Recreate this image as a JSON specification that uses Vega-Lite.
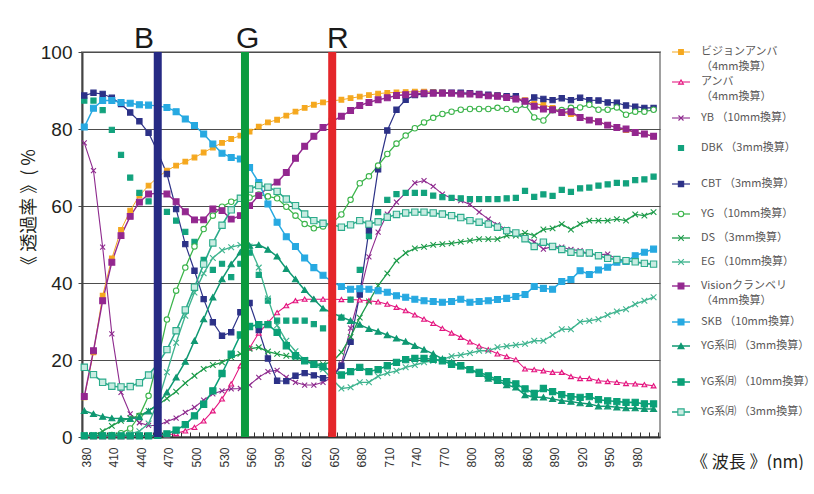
{
"$schema":"https://vega.github.io/schema/vega-lite/v6.json",
"background":"#ffffff",
"padding":{"left":19,"top":23,"right":8,"bottom":0},
"config":{"font":"Liberation Sans"},
"bounds":"flush",
"spacing":7,
"datasets":{
"series":[
{"s":"VA","w":380,"v":10.3},{"s":"VA","w":390,"v":22},{"s":"VA","w":400,"v":36.7},{"s":"VA","w":410,"v":46.4},{"s":"VA","w":420,"v":53.8},{"s":"VA","w":430,"v":58.8},{"s":"VA","w":440,"v":62.7},{"s":"VA","w":450,"v":65.3},{"s":"VA","w":460,"v":67.5},{"s":"VA","w":470,"v":69.2},{"s":"VA","w":480,"v":70.5},{"s":"VA","w":490,"v":71.5},{"s":"VA","w":500,"v":72.6},{"s":"VA","w":510,"v":73.9},{"s":"VA","w":520,"v":75.2},{"s":"VA","w":530,"v":76.4},{"s":"VA","w":540,"v":77.4},{"s":"VA","w":550,"v":78.3},{"s":"VA","w":560,"v":79.3},{"s":"VA","w":570,"v":80.6},{"s":"VA","w":580,"v":81.7},{"s":"VA","w":590,"v":82.4},{"s":"VA","w":600,"v":83.5},{"s":"VA","w":610,"v":84.5},{"s":"VA","w":620,"v":85.5},{"s":"VA","w":630,"v":86.3},{"s":"VA","w":640,"v":86.9},{"s":"VA","w":650,"v":87.3},{"s":"VA","w":660,"v":87.6},{"s":"VA","w":670,"v":88.0},{"s":"VA","w":680,"v":88.4},{"s":"VA","w":690,"v":88.8},{"s":"VA","w":700,"v":89.2},{"s":"VA","w":710,"v":89.4},{"s":"VA","w":720,"v":89.5},{"s":"VA","w":730,"v":89.6},{"s":"VA","w":740,"v":89.7},{"s":"VA","w":750,"v":89.7},{"s":"VA","w":760,"v":89.6},{"s":"VA","w":770,"v":89.5},{"s":"VA","w":780,"v":89.4},{"s":"VA","w":790,"v":89.3},{"s":"VA","w":800,"v":89.1},{"s":"VA","w":810,"v":89.0},{"s":"VA","w":820,"v":88.8},{"s":"VA","w":830,"v":88.7},{"s":"VA","w":840,"v":88.4},{"s":"VA","w":850,"v":88.1},{"s":"VA","w":860,"v":87.5},{"s":"VA","w":870,"v":86.5},{"s":"VA","w":880,"v":86.3},{"s":"VA","w":890,"v":85.5},{"s":"VA","w":900,"v":84.3},{"s":"VA","w":910,"v":83.9},{"s":"VA","w":920,"v":83.0},{"s":"VA","w":930,"v":82.3},{"s":"VA","w":940,"v":81.9},{"s":"VA","w":950,"v":81.0},{"s":"VA","w":960,"v":80.4},{"s":"VA","w":970,"v":79.7},{"s":"VA","w":980,"v":79.1},{"s":"VA","w":990,"v":78.7},{"s":"VA","w":1000,"v":78.1},
{"s":"AM","w":380,"v":0.1},{"s":"AM","w":390,"v":0.1},{"s":"AM","w":400,"v":0.1},{"s":"AM","w":410,"v":0.1},{"s":"AM","w":420,"v":0.1},{"s":"AM","w":430,"v":0.1},{"s":"AM","w":440,"v":0.2},{"s":"AM","w":450,"v":0.2},{"s":"AM","w":460,"v":0.3},{"s":"AM","w":470,"v":0.5},{"s":"AM","w":480,"v":0.9},{"s":"AM","w":490,"v":1.6},{"s":"AM","w":500,"v":2.5},{"s":"AM","w":510,"v":4.2},{"s":"AM","w":520,"v":6.8},{"s":"AM","w":530,"v":9.9},{"s":"AM","w":540,"v":13.8},{"s":"AM","w":550,"v":18.5},{"s":"AM","w":560,"v":23.1},{"s":"AM","w":570,"v":27.0},{"s":"AM","w":580,"v":29.7},{"s":"AM","w":590,"v":32.3},{"s":"AM","w":600,"v":34.1},{"s":"AM","w":610,"v":35.4},{"s":"AM","w":620,"v":35.8},{"s":"AM","w":630,"v":35.8},{"s":"AM","w":640,"v":35.8},{"s":"AM","w":650,"v":35.8},{"s":"AM","w":660,"v":35.7},{"s":"AM","w":670,"v":35.7},{"s":"AM","w":680,"v":35.6},{"s":"AM","w":690,"v":35.4},{"s":"AM","w":700,"v":35.1},{"s":"AM","w":710,"v":34.5},{"s":"AM","w":720,"v":33.7},{"s":"AM","w":730,"v":32.8},{"s":"AM","w":740,"v":31.7},{"s":"AM","w":750,"v":30.6},{"s":"AM","w":760,"v":29.5},{"s":"AM","w":770,"v":28.2},{"s":"AM","w":780,"v":27.0},{"s":"AM","w":790,"v":25.9},{"s":"AM","w":800,"v":24.7},{"s":"AM","w":810,"v":23.6},{"s":"AM","w":820,"v":22.7},{"s":"AM","w":830,"v":21.6},{"s":"AM","w":840,"v":20.9},{"s":"AM","w":850,"v":20.1},{"s":"AM","w":860,"v":17.7},{"s":"AM","w":870,"v":17.5},{"s":"AM","w":880,"v":17.2},{"s":"AM","w":890,"v":16.8},{"s":"AM","w":900,"v":16.8},{"s":"AM","w":910,"v":15.7},{"s":"AM","w":920,"v":15.2},{"s":"AM","w":930,"v":15.2},{"s":"AM","w":940,"v":14.6},{"s":"AM","w":950,"v":14.4},{"s":"AM","w":960,"v":14.2},{"s":"AM","w":970,"v":13.9},{"s":"AM","w":980,"v":13.8},{"s":"AM","w":990,"v":13.6},{"s":"AM","w":1000,"v":13.3},
{"s":"YB","w":380,"v":76.4},{"s":"YB","w":390,"v":69.2},{"s":"YB","w":400,"v":49.3},{"s":"YB","w":410,"v":26.8},{"s":"YB","w":420,"v":11.6},{"s":"YB","w":430,"v":6.0},{"s":"YB","w":440,"v":3.7},{"s":"YB","w":450,"v":3.0},{"s":"YB","w":460,"v":3.0},{"s":"YB","w":470,"v":4.0},{"s":"YB","w":480,"v":4.9},{"s":"YB","w":490,"v":6.4},{"s":"YB","w":500,"v":7.7},{"s":"YB","w":510,"v":9.6},{"s":"YB","w":520,"v":11.2},{"s":"YB","w":530,"v":12.0},{"s":"YB","w":540,"v":12.5},{"s":"YB","w":550,"v":12.6},{"s":"YB","w":560,"v":13.5},{"s":"YB","w":570,"v":15.5},{"s":"YB","w":580,"v":17.0},{"s":"YB","w":590,"v":17.3},{"s":"YB","w":600,"v":15.5},{"s":"YB","w":610,"v":14.2},{"s":"YB","w":620,"v":13.5},{"s":"YB","w":630,"v":13.5},{"s":"YB","w":640,"v":14.2},{"s":"YB","w":650,"v":15.5},{"s":"YB","w":660,"v":19.0},{"s":"YB","w":670,"v":28.3},{"s":"YB","w":680,"v":37.0},{"s":"YB","w":690,"v":46.8},{"s":"YB","w":700,"v":53.2},{"s":"YB","w":710,"v":57.9},{"s":"YB","w":720,"v":61.0},{"s":"YB","w":730,"v":63.4},{"s":"YB","w":740,"v":66.0},{"s":"YB","w":750,"v":66.6},{"s":"YB","w":760,"v":65.1},{"s":"YB","w":770,"v":63.1},{"s":"YB","w":780,"v":62.0},{"s":"YB","w":790,"v":61.4},{"s":"YB","w":800,"v":60.4},{"s":"YB","w":810,"v":58.4},{"s":"YB","w":820,"v":56.6},{"s":"YB","w":830,"v":55.1},{"s":"YB","w":840,"v":53.9},{"s":"YB","w":850,"v":52.7},{"s":"YB","w":860,"v":51.9},{"s":"YB","w":870,"v":50.7},{"s":"YB","w":880,"v":48.8},{"s":"YB","w":890,"v":49.5},{"s":"YB","w":900,"v":49.3},{"s":"YB","w":910,"v":48.7},{"s":"YB","w":920,"v":48.4},{"s":"YB","w":930,"v":47.5},{"s":"YB","w":940,"v":47.3},{"s":"YB","w":950,"v":47.5},{"s":"YB","w":960,"v":46.2},{"s":"YB","w":970,"v":45.8},{"s":"YB","w":980,"v":45.4},{"s":"YB","w":990,"v":45.1},{"s":"YB","w":1000,"v":44.9},
{"s":"DBK","w":380,"v":87.4},{"s":"DBK","w":390,"v":87.4},{"s":"DBK","w":400,"v":84.9},{"s":"DBK","w":410,"v":79.8},{"s":"DBK","w":420,"v":73.3},{"s":"DBK","w":430,"v":67.4},{"s":"DBK","w":440,"v":63.4},{"s":"DBK","w":450,"v":61.2},{"s":"DBK","w":460,"v":59.8},{"s":"DBK","w":470,"v":58.5},{"s":"DBK","w":480,"v":56.2},{"s":"DBK","w":490,"v":53.3},{"s":"DBK","w":500,"v":50.7},{"s":"DBK","w":510,"v":46.0},{"s":"DBK","w":520,"v":43.4},{"s":"DBK","w":530,"v":45.0},{"s":"DBK","w":540,"v":41.5},{"s":"DBK","w":550,"v":45.0},{"s":"DBK","w":560,"v":47.9},{"s":"DBK","w":570,"v":42.1},{"s":"DBK","w":580,"v":35.4},{"s":"DBK","w":590,"v":30.2},{"s":"DBK","w":600,"v":30.2},{"s":"DBK","w":610,"v":30.2},{"s":"DBK","w":620,"v":30.2},{"s":"DBK","w":630,"v":29.3},{"s":"DBK","w":640,"v":28.2},{"s":"DBK","w":650,"v":29.0},{"s":"DBK","w":660,"v":31.0},{"s":"DBK","w":670,"v":35.7},{"s":"DBK","w":680,"v":43.4},{"s":"DBK","w":690,"v":52.2},{"s":"DBK","w":700,"v":58.4},{"s":"DBK","w":710,"v":61.6},{"s":"DBK","w":720,"v":63.1},{"s":"DBK","w":730,"v":63.4},{"s":"DBK","w":740,"v":63.4},{"s":"DBK","w":750,"v":63.4},{"s":"DBK","w":760,"v":62.7},{"s":"DBK","w":770,"v":62.3},{"s":"DBK","w":780,"v":62.1},{"s":"DBK","w":790,"v":62.0},{"s":"DBK","w":800,"v":61.8},{"s":"DBK","w":810,"v":61.8},{"s":"DBK","w":820,"v":61.8},{"s":"DBK","w":830,"v":61.8},{"s":"DBK","w":840,"v":62.0},{"s":"DBK","w":850,"v":62.1},{"s":"DBK","w":860,"v":63.9},{"s":"DBK","w":870,"v":62.4},{"s":"DBK","w":880,"v":63.0},{"s":"DBK","w":890,"v":62.6},{"s":"DBK","w":900,"v":64.2},{"s":"DBK","w":910,"v":63.7},{"s":"DBK","w":920,"v":64.6},{"s":"DBK","w":930,"v":64.8},{"s":"DBK","w":940,"v":65.3},{"s":"DBK","w":950,"v":65.6},{"s":"DBK","w":960,"v":66.0},{"s":"DBK","w":970,"v":65.9},{"s":"DBK","w":980,"v":66.7},{"s":"DBK","w":990,"v":66.9},{"s":"DBK","w":1000,"v":67.6},
{"s":"CBT","w":380,"v":88.7},{"s":"CBT","w":390,"v":89.4},{"s":"CBT","w":400,"v":89.1},{"s":"CBT","w":410,"v":88.1},{"s":"CBT","w":420,"v":86.5},{"s":"CBT","w":430,"v":84.3},{"s":"CBT","w":440,"v":82.0},{"s":"CBT","w":450,"v":79.0},{"s":"CBT","w":460,"v":74.0},{"s":"CBT","w":470,"v":68.3},{"s":"CBT","w":480,"v":59.2},{"s":"CBT","w":490,"v":50.1},{"s":"CBT","w":500,"v":43.2},{"s":"CBT","w":510,"v":35.8},{"s":"CBT","w":520,"v":29.8},{"s":"CBT","w":530,"v":26.3},{"s":"CBT","w":540,"v":27.2},{"s":"CBT","w":550,"v":32.4},{"s":"CBT","w":560,"v":34.8},{"s":"CBT","w":570,"v":27.8},{"s":"CBT","w":580,"v":20.4},{"s":"CBT","w":590,"v":14.6},{"s":"CBT","w":600,"v":14.5},{"s":"CBT","w":610,"v":15.9},{"s":"CBT","w":620,"v":16.6},{"s":"CBT","w":630,"v":16.0},{"s":"CBT","w":640,"v":15.3},{"s":"CBT","w":650,"v":15.5},{"s":"CBT","w":660,"v":18.5},{"s":"CBT","w":670,"v":24.7},{"s":"CBT","w":680,"v":37.0},{"s":"CBT","w":690,"v":53.7},{"s":"CBT","w":700,"v":69.5},{"s":"CBT","w":710,"v":79.6},{"s":"CBT","w":720,"v":85.0},{"s":"CBT","w":730,"v":87.6},{"s":"CBT","w":740,"v":88.8},{"s":"CBT","w":750,"v":89.1},{"s":"CBT","w":760,"v":89.4},{"s":"CBT","w":770,"v":89.4},{"s":"CBT","w":780,"v":89.4},{"s":"CBT","w":790,"v":89.4},{"s":"CBT","w":800,"v":89.3},{"s":"CBT","w":810,"v":89.1},{"s":"CBT","w":820,"v":88.9},{"s":"CBT","w":830,"v":88.7},{"s":"CBT","w":840,"v":88.5},{"s":"CBT","w":850,"v":88.5},{"s":"CBT","w":860,"v":86.5},{"s":"CBT","w":870,"v":88.2},{"s":"CBT","w":880,"v":87.8},{"s":"CBT","w":890,"v":87.5},{"s":"CBT","w":900,"v":88.0},{"s":"CBT","w":910,"v":87.5},{"s":"CBT","w":920,"v":88.1},{"s":"CBT","w":930,"v":87.5},{"s":"CBT","w":940,"v":87.4},{"s":"CBT","w":950,"v":86.9},{"s":"CBT","w":960,"v":86.8},{"s":"CBT","w":970,"v":86.1},{"s":"CBT","w":980,"v":85.8},{"s":"CBT","w":990,"v":85.5},{"s":"CBT","w":1000,"v":85.5},
{"s":"YG","w":380,"v":0.3},{"s":"YG","w":390,"v":0.3},{"s":"YG","w":400,"v":0.3},{"s":"YG","w":410,"v":0.5},{"s":"YG","w":420,"v":1.0},{"s":"YG","w":430,"v":2.2},{"s":"YG","w":440,"v":5.5},{"s":"YG","w":450,"v":10.7},{"s":"YG","w":460,"v":20.0},{"s":"YG","w":470,"v":30.5},{"s":"YG","w":480,"v":38.0},{"s":"YG","w":490,"v":44.0},{"s":"YG","w":500,"v":49.5},{"s":"YG","w":510,"v":54.0},{"s":"YG","w":520,"v":57.5},{"s":"YG","w":530,"v":59.8},{"s":"YG","w":540,"v":61.1},{"s":"YG","w":550,"v":62.0},{"s":"YG","w":560,"v":62.2},{"s":"YG","w":570,"v":63.0},{"s":"YG","w":580,"v":62.5},{"s":"YG","w":590,"v":62.0},{"s":"YG","w":600,"v":59.8},{"s":"YG","w":610,"v":57.5},{"s":"YG","w":620,"v":55.3},{"s":"YG","w":630,"v":54.2},{"s":"YG","w":640,"v":54.7},{"s":"YG","w":650,"v":55.5},{"s":"YG","w":660,"v":57.8},{"s":"YG","w":670,"v":61.6},{"s":"YG","w":680,"v":65.9},{"s":"YG","w":690,"v":67.7},{"s":"YG","w":700,"v":70.5},{"s":"YG","w":710,"v":73.5},{"s":"YG","w":720,"v":76.2},{"s":"YG","w":730,"v":78.3},{"s":"YG","w":740,"v":80.2},{"s":"YG","w":750,"v":81.7},{"s":"YG","w":760,"v":82.9},{"s":"YG","w":770,"v":83.9},{"s":"YG","w":780,"v":84.5},{"s":"YG","w":790,"v":85.0},{"s":"YG","w":800,"v":85.2},{"s":"YG","w":810,"v":85.2},{"s":"YG","w":820,"v":85.2},{"s":"YG","w":830,"v":85.5},{"s":"YG","w":840,"v":85.2},{"s":"YG","w":850,"v":85.0},{"s":"YG","w":860,"v":86.3},{"s":"YG","w":870,"v":83.0},{"s":"YG","w":880,"v":82.2},{"s":"YG","w":890,"v":84.9},{"s":"YG","w":900,"v":84.9},{"s":"YG","w":910,"v":85.5},{"s":"YG","w":920,"v":85.6},{"s":"YG","w":930,"v":86.3},{"s":"YG","w":940,"v":85.0},{"s":"YG","w":950,"v":85.0},{"s":"YG","w":960,"v":85.6},{"s":"YG","w":970,"v":83.7},{"s":"YG","w":980,"v":84.5},{"s":"YG","w":990,"v":84.5},{"s":"YG","w":1000,"v":85.0},
{"s":"DS","w":380,"v":0.3},{"s":"DS","w":390,"v":0.5},{"s":"DS","w":400,"v":1.5},{"s":"DS","w":410,"v":2.9},{"s":"DS","w":420,"v":4.2},{"s":"DS","w":430,"v":4.9},{"s":"DS","w":440,"v":5.5},{"s":"DS","w":450,"v":6.8},{"s":"DS","w":460,"v":8.3},{"s":"DS","w":470,"v":10.0},{"s":"DS","w":480,"v":11.8},{"s":"DS","w":490,"v":14.0},{"s":"DS","w":500,"v":15.9},{"s":"DS","w":510,"v":17.7},{"s":"DS","w":520,"v":18.7},{"s":"DS","w":530,"v":19.4},{"s":"DS","w":540,"v":20.7},{"s":"DS","w":550,"v":21.6},{"s":"DS","w":560,"v":22.9},{"s":"DS","w":570,"v":23.3},{"s":"DS","w":580,"v":22.2},{"s":"DS","w":590,"v":21.6},{"s":"DS","w":600,"v":21.1},{"s":"DS","w":610,"v":20.6},{"s":"DS","w":620,"v":20.0},{"s":"DS","w":630,"v":19.0},{"s":"DS","w":640,"v":18.9},{"s":"DS","w":650,"v":19.5},{"s":"DS","w":660,"v":22.0},{"s":"DS","w":670,"v":26.0},{"s":"DS","w":680,"v":31.0},{"s":"DS","w":690,"v":35.2},{"s":"DS","w":700,"v":39.3},{"s":"DS","w":710,"v":42.5},{"s":"DS","w":720,"v":45.8},{"s":"DS","w":730,"v":47.8},{"s":"DS","w":740,"v":49.0},{"s":"DS","w":750,"v":49.4},{"s":"DS","w":760,"v":49.9},{"s":"DS","w":770,"v":50.1},{"s":"DS","w":780,"v":50.3},{"s":"DS","w":790,"v":50.7},{"s":"DS","w":800,"v":51.0},{"s":"DS","w":810,"v":51.4},{"s":"DS","w":820,"v":51.4},{"s":"DS","w":830,"v":51.4},{"s":"DS","w":840,"v":52.3},{"s":"DS","w":850,"v":52.3},{"s":"DS","w":860,"v":53.0},{"s":"DS","w":870,"v":52.3},{"s":"DS","w":880,"v":53.9},{"s":"DS","w":890,"v":54.2},{"s":"DS","w":900,"v":55.3},{"s":"DS","w":910,"v":53.9},{"s":"DS","w":920,"v":55.3},{"s":"DS","w":930,"v":56.2},{"s":"DS","w":940,"v":56.2},{"s":"DS","w":950,"v":56.2},{"s":"DS","w":960,"v":56.6},{"s":"DS","w":970,"v":56.2},{"s":"DS","w":980,"v":57.8},{"s":"DS","w":990,"v":57.5},{"s":"DS","w":1000,"v":58.4},
{"s":"EG","w":380,"v":0.5},{"s":"EG","w":390,"v":0.5},{"s":"EG","w":400,"v":0.5},{"s":"EG","w":410,"v":0.5},{"s":"EG","w":420,"v":0.6},{"s":"EG","w":430,"v":0.8},{"s":"EG","w":440,"v":1.5},{"s":"EG","w":450,"v":3.5},{"s":"EG","w":460,"v":9.0},{"s":"EG","w":470,"v":16.8},{"s":"EG","w":480,"v":24.5},{"s":"EG","w":490,"v":31.5},{"s":"EG","w":500,"v":37.5},{"s":"EG","w":510,"v":42.5},{"s":"EG","w":520,"v":46.5},{"s":"EG","w":530,"v":48.5},{"s":"EG","w":540,"v":49.3},{"s":"EG","w":550,"v":49.9},{"s":"EG","w":560,"v":49.5},{"s":"EG","w":570,"v":44.0},{"s":"EG","w":580,"v":36.0},{"s":"EG","w":590,"v":29.0},{"s":"EG","w":600,"v":25.0},{"s":"EG","w":610,"v":22.3},{"s":"EG","w":620,"v":20.0},{"s":"EG","w":630,"v":18.7},{"s":"EG","w":640,"v":17.6},{"s":"EG","w":650,"v":15.0},{"s":"EG","w":660,"v":12.6},{"s":"EG","w":670,"v":12.9},{"s":"EG","w":680,"v":14.2},{"s":"EG","w":690,"v":14.2},{"s":"EG","w":700,"v":15.8},{"s":"EG","w":710,"v":16.6},{"s":"EG","w":720,"v":17.2},{"s":"EG","w":730,"v":18.1},{"s":"EG","w":740,"v":18.7},{"s":"EG","w":750,"v":19.4},{"s":"EG","w":760,"v":19.8},{"s":"EG","w":770,"v":20.1},{"s":"EG","w":780,"v":21.0},{"s":"EG","w":790,"v":21.3},{"s":"EG","w":800,"v":21.8},{"s":"EG","w":810,"v":22.4},{"s":"EG","w":820,"v":22.4},{"s":"EG","w":830,"v":23.3},{"s":"EG","w":840,"v":23.6},{"s":"EG","w":850,"v":23.9},{"s":"EG","w":860,"v":24.2},{"s":"EG","w":870,"v":25.0},{"s":"EG","w":880,"v":25.0},{"s":"EG","w":890,"v":26.5},{"s":"EG","w":900,"v":28.0},{"s":"EG","w":910,"v":28.0},{"s":"EG","w":920,"v":29.9},{"s":"EG","w":930,"v":30.2},{"s":"EG","w":940,"v":30.6},{"s":"EG","w":950,"v":31.7},{"s":"EG","w":960,"v":32.6},{"s":"EG","w":970,"v":33.2},{"s":"EG","w":980,"v":34.5},{"s":"EG","w":990,"v":35.4},{"s":"EG","w":1000,"v":36.3},
{"s":"VC","w":380,"v":10.5},{"s":"VC","w":390,"v":22.4},{"s":"VC","w":400,"v":35.4},{"s":"VC","w":410,"v":45.4},{"s":"VC","w":420,"v":52.3},{"s":"VC","w":430,"v":57.3},{"s":"VC","w":440,"v":61.0},{"s":"VC","w":450,"v":63.1},{"s":"VC","w":460,"v":63.3},{"s":"VC","w":470,"v":63.1},{"s":"VC","w":480,"v":61.1},{"s":"VC","w":490,"v":58.5},{"s":"VC","w":500,"v":56.4},{"s":"VC","w":510,"v":56.4},{"s":"VC","w":520,"v":59.2},{"s":"VC","w":530,"v":58.8},{"s":"VC","w":540,"v":56.6},{"s":"VC","w":550,"v":57.5},{"s":"VC","w":560,"v":60.1},{"s":"VC","w":570,"v":62.7},{"s":"VC","w":580,"v":64.8},{"s":"VC","w":590,"v":66.2},{"s":"VC","w":600,"v":68.7},{"s":"VC","w":610,"v":72.4},{"s":"VC","w":620,"v":75.5},{"s":"VC","w":630,"v":78.1},{"s":"VC","w":640,"v":80.4},{"s":"VC","w":650,"v":82.0},{"s":"VC","w":660,"v":83.3},{"s":"VC","w":670,"v":84.8},{"s":"VC","w":680,"v":86.1},{"s":"VC","w":690,"v":86.9},{"s":"VC","w":700,"v":87.6},{"s":"VC","w":710,"v":88.1},{"s":"VC","w":720,"v":88.7},{"s":"VC","w":730,"v":88.9},{"s":"VC","w":740,"v":89.1},{"s":"VC","w":750,"v":89.3},{"s":"VC","w":760,"v":89.3},{"s":"VC","w":770,"v":89.3},{"s":"VC","w":780,"v":89.3},{"s":"VC","w":790,"v":89.1},{"s":"VC","w":800,"v":89.1},{"s":"VC","w":810,"v":88.9},{"s":"VC","w":820,"v":88.6},{"s":"VC","w":830,"v":88.5},{"s":"VC","w":840,"v":88.2},{"s":"VC","w":850,"v":87.8},{"s":"VC","w":860,"v":87.2},{"s":"VC","w":870,"v":85.9},{"s":"VC","w":880,"v":85.2},{"s":"VC","w":890,"v":85.0},{"s":"VC","w":900,"v":84.3},{"s":"VC","w":910,"v":84.5},{"s":"VC","w":920,"v":83.0},{"s":"VC","w":930,"v":82.3},{"s":"VC","w":940,"v":81.9},{"s":"VC","w":950,"v":81.0},{"s":"VC","w":960,"v":80.4},{"s":"VC","w":970,"v":80.0},{"s":"VC","w":980,"v":79.1},{"s":"VC","w":990,"v":78.7},{"s":"VC","w":1000,"v":78.1},
{"s":"SKB","w":380,"v":80.5},{"s":"SKB","w":390,"v":85.4},{"s":"SKB","w":400,"v":87.4},{"s":"SKB","w":410,"v":87.4},{"s":"SKB","w":420,"v":86.9},{"s":"SKB","w":430,"v":86.7},{"s":"SKB","w":440,"v":86.3},{"s":"SKB","w":450,"v":86.2},{"s":"SKB","w":460,"v":86.0},{"s":"SKB","w":470,"v":85.6},{"s":"SKB","w":480,"v":84.5},{"s":"SKB","w":490,"v":82.6},{"s":"SKB","w":500,"v":80.9},{"s":"SKB","w":510,"v":78.7},{"s":"SKB","w":520,"v":76.1},{"s":"SKB","w":530,"v":73.7},{"s":"SKB","w":540,"v":72.6},{"s":"SKB","w":550,"v":72.2},{"s":"SKB","w":560,"v":70.0},{"s":"SKB","w":570,"v":66.1},{"s":"SKB","w":580,"v":60.5},{"s":"SKB","w":590,"v":55.8},{"s":"SKB","w":600,"v":52.0},{"s":"SKB","w":610,"v":49.5},{"s":"SKB","w":620,"v":46.5},{"s":"SKB","w":630,"v":44.0},{"s":"SKB","w":640,"v":42.0},{"s":"SKB","w":650,"v":40.3},{"s":"SKB","w":660,"v":39.1},{"s":"SKB","w":670,"v":38.4},{"s":"SKB","w":680,"v":38.5},{"s":"SKB","w":690,"v":38.4},{"s":"SKB","w":700,"v":38.0},{"s":"SKB","w":710,"v":37.6},{"s":"SKB","w":720,"v":36.7},{"s":"SKB","w":730,"v":36.3},{"s":"SKB","w":740,"v":35.8},{"s":"SKB","w":750,"v":35.4},{"s":"SKB","w":760,"v":35.2},{"s":"SKB","w":770,"v":35.0},{"s":"SKB","w":780,"v":35.2},{"s":"SKB","w":790,"v":35.8},{"s":"SKB","w":800,"v":35.0},{"s":"SKB","w":810,"v":35.2},{"s":"SKB","w":820,"v":35.4},{"s":"SKB","w":830,"v":35.7},{"s":"SKB","w":840,"v":36.0},{"s":"SKB","w":850,"v":36.5},{"s":"SKB","w":860,"v":37.0},{"s":"SKB","w":870,"v":39.1},{"s":"SKB","w":880,"v":38.6},{"s":"SKB","w":890,"v":38.4},{"s":"SKB","w":900,"v":40.4},{"s":"SKB","w":910,"v":40.9},{"s":"SKB","w":920,"v":43.2},{"s":"SKB","w":930,"v":42.2},{"s":"SKB","w":940,"v":43.4},{"s":"SKB","w":950,"v":44.1},{"s":"SKB","w":960,"v":45.4},{"s":"SKB","w":970,"v":45.6},{"s":"SKB","w":980,"v":47.1},{"s":"SKB","w":990,"v":48.0},{"s":"SKB","w":1000,"v":48.8},
{"s":"YGD","w":380,"v":6.8},{"s":"YGD","w":390,"v":6.0},{"s":"YGD","w":400,"v":5.3},{"s":"YGD","w":410,"v":4.9},{"s":"YGD","w":420,"v":4.8},{"s":"YGD","w":430,"v":4.7},{"s":"YGD","w":440,"v":5.2},{"s":"YGD","w":450,"v":6.7},{"s":"YGD","w":460,"v":8.5},{"s":"YGD","w":470,"v":11.6},{"s":"YGD","w":480,"v":15.5},{"s":"YGD","w":490,"v":19.6},{"s":"YGD","w":500,"v":25.0},{"s":"YGD","w":510,"v":30.6},{"s":"YGD","w":520,"v":36.3},{"s":"YGD","w":530,"v":41.0},{"s":"YGD","w":540,"v":44.9},{"s":"YGD","w":550,"v":48.0},{"s":"YGD","w":560,"v":49.7},{"s":"YGD","w":570,"v":49.9},{"s":"YGD","w":580,"v":48.7},{"s":"YGD","w":590,"v":46.9},{"s":"YGD","w":600,"v":43.7},{"s":"YGD","w":610,"v":41.0},{"s":"YGD","w":620,"v":38.2},{"s":"YGD","w":630,"v":35.8},{"s":"YGD","w":640,"v":33.4},{"s":"YGD","w":650,"v":32.2},{"s":"YGD","w":660,"v":31.2},{"s":"YGD","w":670,"v":30.2},{"s":"YGD","w":680,"v":29.2},{"s":"YGD","w":690,"v":28.1},{"s":"YGD","w":700,"v":27.4},{"s":"YGD","w":710,"v":26.5},{"s":"YGD","w":720,"v":25.6},{"s":"YGD","w":730,"v":24.8},{"s":"YGD","w":740,"v":23.7},{"s":"YGD","w":750,"v":22.7},{"s":"YGD","w":760,"v":21.6},{"s":"YGD","w":770,"v":20.3},{"s":"YGD","w":780,"v":19.4},{"s":"YGD","w":790,"v":18.4},{"s":"YGD","w":800,"v":17.5},{"s":"YGD","w":810,"v":16.4},{"s":"YGD","w":820,"v":15.2},{"s":"YGD","w":830,"v":14.6},{"s":"YGD","w":840,"v":13.5},{"s":"YGD","w":850,"v":12.9},{"s":"YGD","w":860,"v":10.9},{"s":"YGD","w":870,"v":10.3},{"s":"YGD","w":880,"v":10.3},{"s":"YGD","w":890,"v":9.9},{"s":"YGD","w":900,"v":9.4},{"s":"YGD","w":910,"v":9.2},{"s":"YGD","w":920,"v":8.8},{"s":"YGD","w":930,"v":8.6},{"s":"YGD","w":940,"v":8.0},{"s":"YGD","w":950,"v":8.0},{"s":"YGD","w":960,"v":7.7},{"s":"YGD","w":970,"v":7.5},{"s":"YGD","w":980,"v":7.5},{"s":"YGD","w":990,"v":7.3},{"s":"YGD","w":1000,"v":7.3},
{"s":"YGM10","w":380,"v":0.3},{"s":"YGM10","w":390,"v":0.3},{"s":"YGM10","w":400,"v":0.3},{"s":"YGM10","w":410,"v":0.3},{"s":"YGM10","w":420,"v":0.3},{"s":"YGM10","w":430,"v":0.3},{"s":"YGM10","w":440,"v":0.3},{"s":"YGM10","w":450,"v":0.3},{"s":"YGM10","w":460,"v":0.4},{"s":"YGM10","w":470,"v":0.8},{"s":"YGM10","w":480,"v":1.8},{"s":"YGM10","w":490,"v":3.2},{"s":"YGM10","w":500,"v":5.5},{"s":"YGM10","w":510,"v":8.5},{"s":"YGM10","w":520,"v":12.0},{"s":"YGM10","w":530,"v":16.5},{"s":"YGM10","w":540,"v":21.5},{"s":"YGM10","w":550,"v":26.5},{"s":"YGM10","w":560,"v":28.7},{"s":"YGM10","w":570,"v":29.2},{"s":"YGM10","w":580,"v":29.2},{"s":"YGM10","w":590,"v":27.2},{"s":"YGM10","w":600,"v":23.7},{"s":"YGM10","w":610,"v":21.1},{"s":"YGM10","w":620,"v":19.8},{"s":"YGM10","w":630,"v":18.9},{"s":"YGM10","w":640,"v":18.3},{"s":"YGM10","w":650,"v":17.0},{"s":"YGM10","w":660,"v":16.1},{"s":"YGM10","w":670,"v":17.0},{"s":"YGM10","w":680,"v":18.1},{"s":"YGM10","w":690,"v":17.0},{"s":"YGM10","w":700,"v":17.5},{"s":"YGM10","w":710,"v":18.5},{"s":"YGM10","w":720,"v":19.4},{"s":"YGM10","w":730,"v":20.1},{"s":"YGM10","w":740,"v":20.4},{"s":"YGM10","w":750,"v":20.4},{"s":"YGM10","w":760,"v":20.2},{"s":"YGM10","w":770,"v":19.8},{"s":"YGM10","w":780,"v":18.9},{"s":"YGM10","w":790,"v":18.5},{"s":"YGM10","w":800,"v":17.5},{"s":"YGM10","w":810,"v":16.8},{"s":"YGM10","w":820,"v":15.9},{"s":"YGM10","w":830,"v":14.9},{"s":"YGM10","w":840,"v":14.4},{"s":"YGM10","w":850,"v":13.8},{"s":"YGM10","w":860,"v":12.5},{"s":"YGM10","w":870,"v":11.3},{"s":"YGM10","w":880,"v":12.6},{"s":"YGM10","w":890,"v":11.8},{"s":"YGM10","w":900,"v":11.0},{"s":"YGM10","w":910,"v":10.5},{"s":"YGM10","w":920,"v":10.3},{"s":"YGM10","w":930,"v":10.5},{"s":"YGM10","w":940,"v":9.7},{"s":"YGM10","w":950,"v":9.4},{"s":"YGM10","w":960,"v":9.2},{"s":"YGM10","w":970,"v":9.0},{"s":"YGM10","w":980,"v":9.0},{"s":"YGM10","w":990,"v":8.6},{"s":"YGM10","w":1000,"v":8.6},
{"s":"YGM3","w":380,"v":18.1},{"s":"YGM3","w":390,"v":16.2},{"s":"YGM3","w":400,"v":14.2},{"s":"YGM3","w":410,"v":13.2},{"s":"YGM3","w":420,"v":13.0},{"s":"YGM3","w":430,"v":13.1},{"s":"YGM3","w":440,"v":14.1},{"s":"YGM3","w":450,"v":16.1},{"s":"YGM3","w":460,"v":19.0},{"s":"YGM3","w":470,"v":22.7},{"s":"YGM3","w":480,"v":27.6},{"s":"YGM3","w":490,"v":33.0},{"s":"YGM3","w":500,"v":38.9},{"s":"YGM3","w":510,"v":44.9},{"s":"YGM3","w":520,"v":50.4},{"s":"YGM3","w":530,"v":55.0},{"s":"YGM3","w":540,"v":59.0},{"s":"YGM3","w":550,"v":62.0},{"s":"YGM3","w":560,"v":64.4},{"s":"YGM3","w":570,"v":65.3},{"s":"YGM3","w":580,"v":64.9},{"s":"YGM3","w":590,"v":63.8},{"s":"YGM3","w":600,"v":61.8},{"s":"YGM3","w":610,"v":60.1},{"s":"YGM3","w":620,"v":57.9},{"s":"YGM3","w":630,"v":56.2},{"s":"YGM3","w":640,"v":55.5},{"s":"YGM3","w":650,"v":55.2},{"s":"YGM3","w":660,"v":54.5},{"s":"YGM3","w":670,"v":55.1},{"s":"YGM3","w":680,"v":56.2},{"s":"YGM3","w":690,"v":55.3},{"s":"YGM3","w":700,"v":55.9},{"s":"YGM3","w":710,"v":57.1},{"s":"YGM3","w":720,"v":57.8},{"s":"YGM3","w":730,"v":58.2},{"s":"YGM3","w":740,"v":58.4},{"s":"YGM3","w":750,"v":58.4},{"s":"YGM3","w":760,"v":58.2},{"s":"YGM3","w":770,"v":57.9},{"s":"YGM3","w":780,"v":57.5},{"s":"YGM3","w":790,"v":57.0},{"s":"YGM3","w":800,"v":56.2},{"s":"YGM3","w":810,"v":55.8},{"s":"YGM3","w":820,"v":55.3},{"s":"YGM3","w":830,"v":54.5},{"s":"YGM3","w":840,"v":53.6},{"s":"YGM3","w":850,"v":53.0},{"s":"YGM3","w":860,"v":51.5},{"s":"YGM3","w":870,"v":49.5},{"s":"YGM3","w":880,"v":50.6},{"s":"YGM3","w":890,"v":49.5},{"s":"YGM3","w":900,"v":48.7},{"s":"YGM3","w":910,"v":48.0},{"s":"YGM3","w":920,"v":47.8},{"s":"YGM3","w":930,"v":47.8},{"s":"YGM3","w":940,"v":47.1},{"s":"YGM3","w":950,"v":46.4},{"s":"YGM3","w":960,"v":46.1},{"s":"YGM3","w":970,"v":45.8},{"s":"YGM3","w":980,"v":45.5},{"s":"YGM3","w":990,"v":45.1},{"s":"YGM3","w":1000,"v":44.9}
],
"legend":[
{"s":"VA","label":"ビジョンアンバ","sub":"　　（4mm換算）"},
{"s":"AM","label":"アンバ","sub":"　　　（4mm換算）"},
{"s":"YB","label":"YB （10mm換算）","sub":""},
{"s":"DBK","label":"DBK （3mm換算）","sub":""},
{"s":"CBT","label":"CBT （3mm換算）","sub":""},
{"s":"YG","label":"YG （10mm換算）","sub":""},
{"s":"DS","label":"DS （3mm換算）","sub":""},
{"s":"EG","label":"EG （10mm換算）","sub":""},
{"s":"VC","label":"Visionクランベリ","sub":"　　（4mm換算）"},
{"s":"SKB","label":"SKB （10mm換算）","sub":""},
{"s":"YGD","label":"YG系㈰ （3mm換算）","sub":""},
{"s":"YGM10","label":"YG系㈪ （10mm換算）","sub":""},
{"s":"YGM3","label":"YG系㈪ （3mm換算）","sub":""}
],
"barlabels":[{"band":"B","w":445},{"band":"G","w":558},{"band":"R","w":656}]
},
"hconcat":[
{
"width":578,"height":385,
"view":{"stroke":"#a0a0a0","strokeWidth":2},
"resolve":{"axis":{"x":"independent"}},
"layer":[
{"data":{"name":"series"},"transform":[{"filter":"datum.s !== 'DBK'"}],
"mark":{"type":"line"},
"encoding":{
"x":{"field":"w","type":"quantitative","scale":{"domain":[377.5,1007],"nice":false,"zero":false},
"axis":{"title":null,"orient":"bottom","values":[380,410,440,470,500,530,560,590,620,650,680,710,740,770,800,830,860,890,920,950,980],"labelOverlap":false,"labelAngle":-90,"labelFontSize":12,"labelColor":"#333333","labelOffset":2,"ticks":false,"labelPadding":10,"domainColor":"#333333","domainWidth":2,"grid":false}},
"y":{"field":"v","type":"quantitative","scale":{"domain":[0,100],"nice":false},
"axis":{"title":"《 透過率 》( %","values":[0,10,20,30,40,50,60,70,80,90,100],"grid":true,"gridColor":"#4d4d4d","gridWidth":1,"labelFontSize":19,"labelColor":"#231f20","labelPadding":6,"tickSize":4,"tickColor":"#444444","domainColor":"#444444","domainWidth":2,"titleFont":"Noto Sans CJK JP","titleFontSize":18,"titleFontWeight":"normal","titleColor":"#231f20","titleX":-53,"titleY":159,"titleAngle":270,"titleAlign":"center","titleBaseline":"middle"}},
"detail":{"field":"s","type":"nominal"},
"color":{"field":"s","type":"nominal","legend":null,"scale":{"domain":["VA","AM","YB","DBK","CBT","YG","DS","EG","VC","SKB","YGD","YGM10","YGM3"],"range":["#f5a81f","#e4147f","#8e2a8e","#12a27d","#2c3187","#3bb44a","#1d9b4a","#3fb48f","#93278f","#27a9e1","#0f9872","#0aa077","#2bab8b"]}},
"strokeWidth":{"field":"s","type":"ordinal","legend":null,"scale":{"domain":["VA","AM","YB","DBK","CBT","YG","DS","EG","VC","SKB","YGD","YGM10","YGM3"],"range":[1,1.6,1.5,0,1,1,1.3,1,1,1,1.4,1.6,1.3]}}
}},
{"data":{"name":"series"},
"mark":{"type":"point","filled":false,"opacity":1,"strokeWidth":1.1},
"encoding":{
"x":{"field":"w","type":"quantitative","axis":{"title":null,"orient":"bottom","values":[385,395,405,415,425,435,445,455,465,475,485,495,505,515,525,535,545,555,565,575,585,595,605,615,625,635,645,655,665,675,685,695,705,715,725,735,745,755,765,775,785,795,805,815,825,835,845,855,865,875,885,895,905,915,925,935,945,955,965,975,985,995,1005],"labels":false,"domain":false,"grid":false,"ticks":true,"tickSize":-5,"tickColor":"#333333"}},
"y":{"field":"v","type":"quantitative"},
"shape":{"field":"s","type":"nominal","legend":null,"scale":{"domain":["VA","AM","YB","DBK","CBT","YG","DS","EG","VC","SKB","YGD","YGM10","YGM3"],"range":["square","triangle-up","M-1,-1L1,1M-1,1L1,-1","square","square","circle","M-1,-1L1,1M-1,1L1,-1","M-1,-1L1,1M-1,1L1,-1","square","square","triangle-up","square","square"]}},
"stroke":{"field":"s","type":"nominal","legend":null,"scale":{"domain":["VA","AM","YB","DBK","CBT","YG","DS","EG","VC","SKB","YGD","YGM10","YGM3"],"range":["#f5a81f","#e4147f","#8e2a8e","#12a27d","#2c3187","#3bb44a","#1d9b4a","#3fb48f","#93278f","#27a9e1","#0f9872","#0aa077","#2bab8b"]}},
"fill":{"field":"s","type":"nominal","legend":null,"scale":{"domain":["VA","AM","YB","DBK","CBT","YG","DS","EG","VC","SKB","YGD","YGM10","YGM3"],"range":["#f5a81f","#fbd3e6","#8e2a8e","#12a27d","#2c3187","#ffffff","#1d9b4a","#3fb48f","#93278f","#27a9e1","#0f9872","#0aa077","#c9ece2"]}},
"size":{"field":"s","type":"ordinal","legend":null,"scale":{"domain":["VA","AM","YB","DBK","CBT","YG","DS","EG","VC","SKB","YGD","YGM10","YGM3"],"range":[22,40,30,28,24,16,45,22,28,26,26,28,36]}}
}},
{"data":{"values":[{"w":460}]},"mark":{"type":"rule","strokeWidth":8,"color":"#262a84"},
"encoding":{"x":{"field":"w","type":"quantitative","axis":null},"y":{"datum":0,"type":"quantitative"},"y2":{"datum":100}}},
{"data":{"values":[{"w":555}]},"mark":{"type":"rule","strokeWidth":8,"color":"#0b9b3e"},
"encoding":{"x":{"field":"w","type":"quantitative","axis":null},"y":{"datum":0,"type":"quantitative"},"y2":{"datum":100}}},
{"data":{"values":[{"w":650}]},"mark":{"type":"rule","strokeWidth":8,"color":"#e4262a"},
"encoding":{"x":{"field":"w","type":"quantitative","axis":null},"y":{"datum":0,"type":"quantitative"},"y2":{"datum":100}}},
{"data":{"name":"barlabels"},"mark":{"type":"text","fontSize":30,"baseline":"alphabetic","color":"#1a1a1a","font":"Liberation Sans"},
"encoding":{"x":{"field":"w","type":"quantitative","axis":null},"y":{"datum":101,"type":"quantitative"},"text":{"field":"band"}}}
]
},
{
"width":140,"height":360,
"view":{"stroke":null},
"data":{"name":"legend"},
"layer":[
{"transform":[{"filter":"datum.s !== 'DBK'"}],
"mark":{"type":"rule"},
"encoding":{
"x":{"datum":5,"type":"quantitative","scale":{"domain":[0,140],"nice":false,"zero":false},
"axis":{"title":"《 波長 》(nm)","labels":false,"ticks":false,"domain":false,"grid":false,"titleFont":"Noto Sans CJK JP","titleFontSize":17,"titleFontWeight":"normal","titleColor":"#231f20","titleX":80,"titleY":50,"titleAlign":"center","titleBaseline":"middle"}},
"x2":{"datum":23},
"y":{"field":"s","type":"nominal","scale":{"type":"point","padding":0,"domain":["VA","d1","d2","d3","d4","AM","d6","d7","d8","d9","d10","YB","d12","d13","d14","d15","DBK","d17","d18","d19","d20","d21","CBT","d23","d24","d25","d26","YG","d28","d29","d30","DS","d32","d33","d34","EG","d36","d37","d38","VC","d40","d41","d42","d43","d44","SKB","d46","d47","d48","YGD","d50","d51","d52","d53","d54","YGM10","d56","d57","d58","d59","YGM3"],"range":[0,360]},"axis":null},
"color":{"field":"s","type":"nominal","legend":null,"scale":{"domain":["VA","AM","YB","DBK","CBT","YG","DS","EG","VC","SKB","YGD","YGM10","YGM3"],"range":["#f5a81f","#e4147f","#8e2a8e","#12a27d","#2c3187","#3bb44a","#1d9b4a","#3fb48f","#93278f","#27a9e1","#0f9872","#0aa077","#2bab8b"]}},
"strokeWidth":{"field":"s","type":"ordinal","legend":null,"scale":{"domain":["VA","AM","YB","DBK","CBT","YG","DS","EG","VC","SKB","YGD","YGM10","YGM3"],"range":[1,1.6,1.5,0,1,1,1.3,1,1,1,1.4,1.6,1.3]}}
}},
{"mark":{"type":"point","filled":false,"opacity":1,"strokeWidth":1.1},
"encoding":{
"x":{"datum":14,"type":"quantitative"},
"y":{"field":"s","type":"nominal"},
"shape":{"field":"s","type":"nominal","legend":null,"scale":{"domain":["VA","AM","YB","DBK","CBT","YG","DS","EG","VC","SKB","YGD","YGM10","YGM3"],"range":["square","triangle-up","M-1,-1L1,1M-1,1L1,-1","square","square","circle","M-1,-1L1,1M-1,1L1,-1","M-1,-1L1,1M-1,1L1,-1","square","square","triangle-up","square","square"]}},
"stroke":{"field":"s","type":"nominal","legend":null,"scale":{"domain":["VA","AM","YB","DBK","CBT","YG","DS","EG","VC","SKB","YGD","YGM10","YGM3"],"range":["#f5a81f","#e4147f","#8e2a8e","#12a27d","#2c3187","#3bb44a","#1d9b4a","#3fb48f","#93278f","#27a9e1","#0f9872","#0aa077","#2bab8b"]}},
"fill":{"field":"s","type":"nominal","legend":null,"scale":{"domain":["VA","AM","YB","DBK","CBT","YG","DS","EG","VC","SKB","YGD","YGM10","YGM3"],"range":["#f5a81f","#fbd3e6","#8e2a8e","#12a27d","#2c3187","#ffffff","#1d9b4a","#3fb48f","#93278f","#27a9e1","#0f9872","#0aa077","#c9ece2"]}},
"size":{"field":"s","type":"ordinal","legend":null,"scale":{"domain":["VA","AM","YB","DBK","CBT","YG","DS","EG","VC","SKB","YGD","YGM10","YGM3"],"range":[22,40,30,28,24,16,45,22,28,26,26,28,36]}}
}},
{"mark":{"type":"text","align":"left","baseline":"middle","fontSize":11,"font":"Noto Sans CJK JP","color":"#595757"},
"encoding":{
"x":{"datum":34,"type":"quantitative"},
"y":{"field":"s","type":"nominal"},
"text":{"field":"label"}
}},
{"transform":[{"filter":"datum.sub !== ''"}],
"mark":{"type":"text","align":"left","baseline":"middle","dy":15,"fontSize":11,"font":"Noto Sans CJK JP","color":"#595757"},
"encoding":{
"x":{"datum":34,"type":"quantitative"},
"y":{"field":"s","type":"nominal"},
"text":{"field":"sub"}
}}
]
}
]
}
